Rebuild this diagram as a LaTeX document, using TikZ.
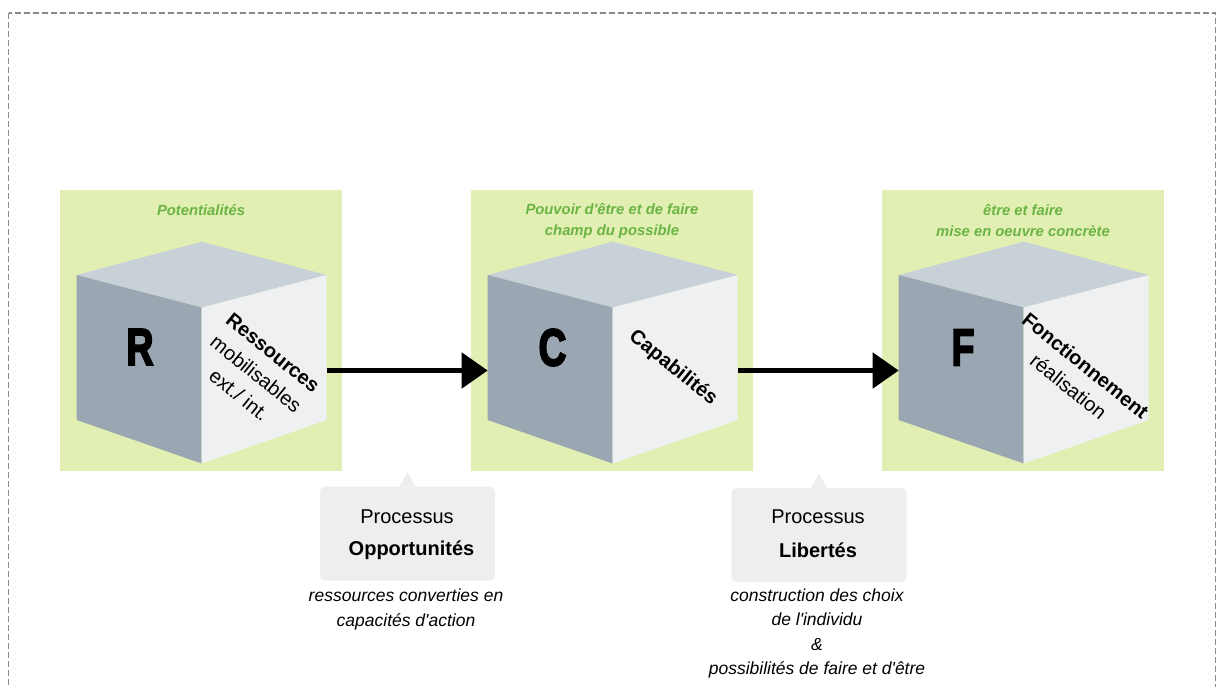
\documentclass[tikz,border=0pt]{standalone}
\usepackage{fontspec}
\setmainfont{Liberation Sans}
\newfontfamily\heavyfont{Liberation Sans}[BoldFeatures={FakeBold=4}]
\usepackage{graphicx}
\usetikzlibrary{arrows.meta}
\definecolor{panelgreen}{HTML}{E2EFB3}
\definecolor{textgreen}{HTML}{6AB443}
\definecolor{cubetop}{HTML}{C8D0D8}
\definecolor{cubeleft}{HTML}{9AA6B2}
\definecolor{cuberight}{HTML}{EEF0F2}
\definecolor{calloutgray}{HTML}{EDEEF0}
\definecolor{bordergray}{HTML}{8A8A8A}
\newcommand\drawcube[2]{%
  \coordinate (#1-t)  at (#2+141.7,241.7);
  \coordinate (#1-lt) at (#2+16.7,275);
  \coordinate (#1-rt) at (#2+266.7,275);
  \coordinate (#1-c)  at (#2+141.7,307.5);
  \coordinate (#1-lb) at (#2+16.7,420);
  \coordinate (#1-b)  at (#2+141.7,463.5);
  \coordinate (#1-rb) at (#2+266.7,420);
  \coordinate (#1-in)  at (#2+16.7,370.5);
  \coordinate (#1-out) at (#2+266.7,370.5);
  \fill[cubetop] (#1-t) -- (#1-rt) -- (#1-c) -- (#1-lt) -- cycle;
  \fill[cubeleft] (#1-lt) -- (#1-c) -- (#1-b) -- (#1-lb) -- cycle;
  \fill[cuberight] (#1-c) -- (#1-rt) -- (#1-rb) -- (#1-b) -- cycle;
}
\newcommand\apos{\textquotesingle}
\begin{document}
\begin{tikzpicture}[x=1pt,y=-1pt,
  panel/.style={fill=panelgreen, draw=none, minimum width=281.5pt, minimum height=280.5pt, inner sep=0pt, anchor=north west},
  greentitle/.style={text=textgreen, font=\fontsize{14.8}{20.7}\selectfont\bfseries\itshape, align=center, inner sep=0pt},
  bigletter/.style={font=\fontsize{52}{52}\selectfont\heavyfont\bfseries, inner sep=0pt},
  facetext/.style={font=\fontsize{20}{27}\selectfont, align=center, rotate=-39, inner sep=0pt},
  flowarrow/.style={line width=5pt, -{Triangle[length=26pt,width=35pt]}},
  callout/.style={fill=calloutgray, rounded corners=5pt, minimum width=175pt, minimum height=94pt, inner sep=0pt},
  boxtext/.style={font=\fontsize{20}{24}\selectfont, inner sep=0pt},
  notetext/.style={font=\fontsize{17.5}{24.6}\selectfont\itshape, align=center, inner sep=0pt}
]
\useasboundingbox (0,0) rectangle (1217,686);
\draw[bordergray, line width=1.3pt, dash pattern=on 6pt off 3pt] (8.5,13) rectangle (1215.5,720);

% panels
\node[panel] (panel1) at (60,190) {};
\node[panel] (panel2) at (471,190) {};
\node[panel] (panel3) at (882,190) {};

\node[greentitle] (title1) at (201,210) {Potentialités};
\node[greentitle] (title2) at (612,220.8) {Pouvoir d\apos être et de faire\\champ du possible};
\node[greentitle] (title3) at (1023,220.8) {être et faire\\mise en oeuvre concrète};

% cubes
\drawcube{cubeA}{60}
\drawcube{cubeB}{471}
\drawcube{cubeC}{882}

\node[bigletter] (letR) at (140,347) {\scalebox{0.72}[1]{R}};
\node[bigletter] (letC) at (552.5,347.5) {\scalebox{0.74}[1]{C}};
\node[bigletter] (letF) at (963,347.5) {\scalebox{0.72}[1]{F}};

\node[facetext] (faceA) at (256,374) {\textbf{Ressources}\\mobilisables\\ext./ int.};
\node[facetext] (faceB) at (673,368) {\textbf{Capabilités}};
\node[facetext] (faceC) at (1077,376) {\textbf{Fonctionnement}\\réalisation};

% arrows
\draw[flowarrow] (cubeA-out) -- (cubeB-in);
\draw[flowarrow] (cubeB-out) -- (cubeC-in);

% callouts
\node[callout] (box1) at (407.5,533.5) {};
\fill[calloutgray] ([xshift=-8pt]box1.north) -- ([yshift=14pt]box1.north) -- ([xshift=8pt]box1.north) -- cycle;
\node[boxtext] (proc1) at (407,516.7) {Processus};
\node[boxtext] (opp) at (411.5,550) {\textbf{Opportunités}};
\node[notetext] (note1) at (406,609.2) {ressources converties en\\capacités d\apos action};

\node[callout] (box2) at (819,535) {};
\fill[calloutgray] ([xshift=-8pt]box2.north) -- ([yshift=14pt]box2.north) -- ([xshift=8pt]box2.north) -- cycle;
\node[boxtext] (proc2) at (818,516.7) {Processus};
\node[boxtext] (lib) at (818,550) {\textbf{Libertés}};
\node[notetext] (note2) at (817,633.4) {construction des choix\\de l\apos individu\\\&\\possibilités de faire et d\apos être};
\end{tikzpicture}
\end{document}
